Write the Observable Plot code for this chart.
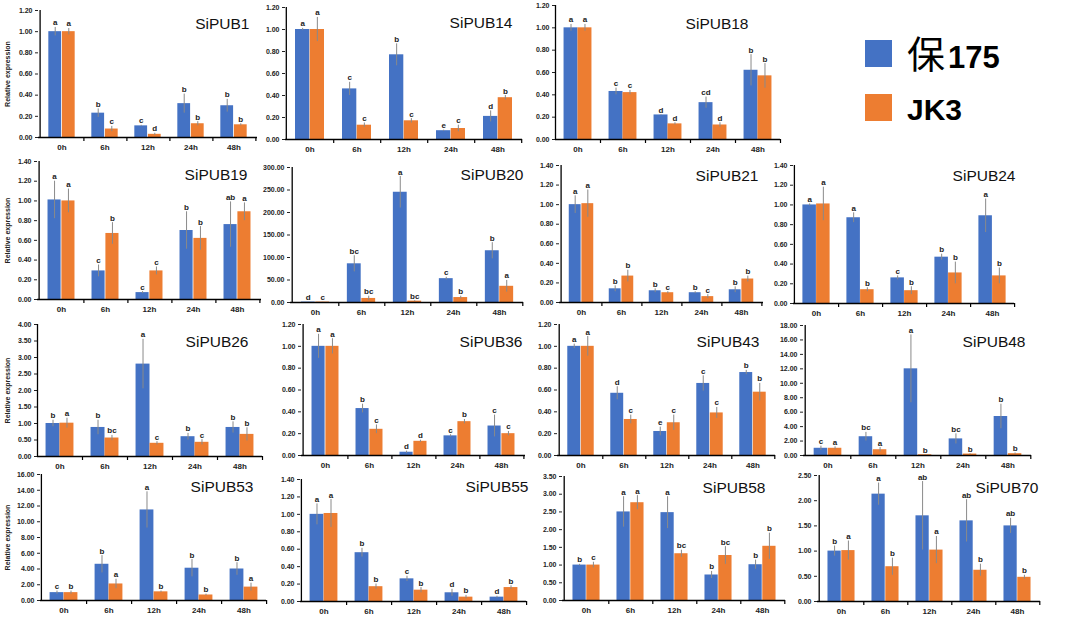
<!DOCTYPE html>
<html><head><meta charset="utf-8">
<script src="https://cdn.jsdelivr.net/npm/d3@7"></script>
<script src="https://cdn.jsdelivr.net/npm/@observablehq/plot@0.6"></script>
<style>
body{margin:0;background:#fff;}
#wrap{position:relative;width:1065px;height:618px;overflow:hidden;background:#fff;}
.panel{position:absolute;}
.panel svg{overflow:visible;}
</style></head><body><div id="wrap"></div>
<script>
// ---------- data ----------
const times = ["0h","6h","12h","24h","48h"];
const seriesNames = ["保175","JK3"];
const geneNames = ["SiPUB1","SiPUB14","SiPUB18","SiPUB19","SiPUB20","SiPUB21","SiPUB24","SiPUB26","SiPUB36","SiPUB43","SiPUB48","SiPUB53","SiPUB55","SiPUB58","SiPUB70"];

const bao175Mean = [
  [1.00,0.23,0.11,0.32,0.30],
  [1.00,0.46,0.77,0.08,0.21],
  [1.00,0.43,0.22,0.33,0.62],
  [1.01,0.29,0.07,0.70,0.76],
  [1.0,86,245,53,115],
  [1.00,0.14,0.12,0.10,0.13],
  [1.00,0.87,0.26,0.47,0.89],
  [1.00,0.88,2.80,0.60,0.88],
  [1.00,0.43,0.03,0.18,0.27],
  [1.00,0.57,0.22,0.66,0.76],
  [1.0,2.6,12.0,2.3,5.4],
  [1.0,4.6,11.5,4.1,4.0],
  [1.00,0.56,0.26,0.10,0.05],
  [1.00,2.50,2.48,0.72,1.01],
  [1.00,2.13,1.70,1.60,1.50]
];
const bao175Err = [
  [0.04,0.04,0.005,0.09,0.06],
  [0.01,0.06,0.10,0.005,0.05],
  [0.03,0.03,0.003,0.05,0.14],
  [0.19,0.06,0.01,0.19,0.23],
  [0.1,18,35,3,18],
  [0.09,0.03,0.02,0.01,0.03],
  [0.01,0.05,0.02,0.03,0.17],
  [0.10,0.22,0.75,0.10,0.17],
  [0.11,0.04,0.01,0.01,0.10],
  [0.02,0.06,0.04,0.07,0.02],
  [0.3,0.6,4.7,0.7,1.7],
  [0.2,1.1,2.3,1.1,0.8],
  [0.12,0.05,0.03,0.04,0.01],
  [0.02,0.43,0.45,0.10,0.13],
  [0.10,0.22,0.68,0.42,0.15]
];
const bao175Sig = [
  ["a","b","c","b","b"],
  ["a","c","b","e","d"],
  ["a","c","d","cd","b"],
  ["a","c","c","b","ab"],
  ["d","bc","a","c","b"],
  ["a","b","b","b","b"],
  ["a","a","c","b","a"],
  ["b","b","a","b","b"],
  ["a","b","d","c","c"],
  ["a","d","e","c","b"],
  ["c","bc","a","bc","b"],
  ["c","b","a","b","b"],
  ["a","b","c","d","d"],
  ["b","a","a","b","b"],
  ["b","a","ab","ab","ab"]
];
const jk3Mean = [
  [1.00,0.08,0.03,0.13,0.12],
  [1.00,0.13,0.17,0.10,0.38],
  [1.00,0.42,0.14,0.13,0.57],
  [1.00,0.67,0.29,0.62,0.89],
  [1.0,9,3,11,36],
  [1.01,0.27,0.10,0.06,0.24],
  [1.01,0.14,0.13,0.31,0.28],
  [1.01,0.56,0.40,0.43,0.67],
  [1.00,0.24,0.13,0.31,0.20],
  [1.00,0.33,0.30,0.39,0.58],
  [1.0,0.8,0.1,0.2,0.25],
  [1.0,2.1,1.1,0.7,1.7],
  [1.01,0.17,0.13,0.05,0.16],
  [1.00,2.76,1.32,1.27,1.53],
  [1.01,0.69,1.02,0.62,0.48]
];
const jk3Err = [
  [0.03,0.025,0.01,0.02,0.01],
  [0.11,0.02,0.02,0.03,0.02],
  [0.03,0.02,0.01,0.02,0.11],
  [0.12,0.11,0.04,0.12,0.09],
  [0.1,5,1,3,13],
  [0.14,0.06,0.01,0.02,0.03],
  [0.17,0.02,0.04,0.11,0.08],
  [0.15,0.08,0.05,0.08,0.20],
  [0.07,0.04,0.01,0.02,0.02],
  [0.09,0.04,0.07,0.05,0.08],
  [0.2,0.3,0.02,0.05,0.1],
  [0.2,0.6,0.1,0.1,0.5],
  [0.16,0.03,0.03,0.02,0.02],
  [0.08,0.20,0.10,0.25,0.37],
  [0.19,0.17,0.27,0.12,0.04]
];
const jk3Sig = [
  ["a","c","d","b","b"],
  ["a","c","c","c","b"],
  ["a","c","d","d","b"],
  ["a","b","c","b","a"],
  ["c","bc","bc","b","a"],
  ["a","b","c","c","b"],
  ["a","b","b","b","b"],
  ["a","bc","c","c","b"],
  ["a","c","d","b","c"],
  ["a","c","c","c","b"],
  ["a","a","b","b","b"],
  ["b","a","b","b","a"],
  ["a","b","b","b","b"],
  ["c","a","bc","bc","b"],
  ["a","b","a","b","b"]
];
const yMax  = [1.2,1.2,1.2,1.4,300,1.4,1.4,4,1.2,1.2,18,16,1.4,3.5,2.5];
const yStep = [0.2,0.2,0.2,0.2,50,0.2,0.2,0.5,0.2,0.2,2,2,0.2,0.5,0.5];

// ---------- layout (page pixels): frame left, right, top, bottom, title dx, title dy ----------
const frames = [
  [38,257,10,137,-8,7],
  [285,522,7,139,-10,9],
  [555,780,5,139,-32,12],
  [37,261,161,299,-14,7],
  [290,523,167,302,0,1],
  [559,763,165,302,-5,4],
  [793,1014,165,303,1,4],
  [37,262,324,456,-14,11],
  [301,525,324,455,-3,11],
  [557,775,324,455,-16,11],
  [803,1031,325,455,-6,10],
  [40,266,474,600,-13,6],
  [300,526,479,601,2,1],
  [562,785,476,600,-20,5],
  [817,1040,475,601,-2,6]
];

const BLUE = "#4472C4", ORANGE = "#ED7D31";
const FONT = "'Liberation Sans', Arial, sans-serif";
const wrap = document.getElementById("wrap");

geneNames.forEach((gene, i) => {
  const [L, R, T, B, tdx, tdy] = frames[i];
  const ML = 36, MR = 6, MT = 12, MB = 20;
  const w = R - L, h = B - T;
  const band = w / times.length;
  const bw = band * 0.31;
  const rows = times.map((t, j) => ({
    time: t,
    b: bao175Mean[i][j], be: bao175Err[i][j], bs: bao175Sig[i][j],
    o: jk3Mean[i][j], oe: jk3Err[i][j], os: jk3Sig[i][j]
  }));
  const nT = Math.round(yMax[i] / yStep[i]);
  const ticks = d3.range(nT + 1).map(k => +(k * yStep[i]).toFixed(4));
  const firstCol = L < 60;
  const svg = Plot.plot({
    width: w + ML + MR,
    height: h + MT + MB,
    marginLeft: ML, marginRight: MR, marginTop: MT, marginBottom: MB,
    style: {fontFamily: FONT, fontSize: "7px", fontWeight: "bold", color: "#222", background: "transparent", overflow: "visible"},
    x: {domain: times, padding: 0},
    y: {domain: [0, yMax[i]]},
    marks: [
      Plot.barY(rows, {x: "time", y: "b", fill: BLUE, insetLeft: band / 2 - bw, insetRight: band / 2}),
      Plot.barY(rows, {x: "time", y: "o", fill: ORANGE, insetLeft: band / 2, insetRight: band / 2 - bw}),
      Plot.ruleX(rows, {x: "time", y1: d => Math.max(0, d.b - d.be), y2: d => d.b + d.be, dx: -bw / 2, stroke: "#8a8a8a", strokeWidth: 1}),
      Plot.ruleX(rows, {x: "time", y1: d => Math.max(0, d.o - d.oe), y2: d => d.o + d.oe, dx: bw / 2, stroke: "#8a8a8a", strokeWidth: 1}),
      Plot.text(rows, {x: "time", y: d => d.b + d.be, text: "bs", dx: -bw / 2, dy: -2, lineAnchor: "bottom", fontSize: 8, fontWeight: "bold", fill: "#222"}),
      Plot.text(rows, {x: "time", y: d => d.o + d.oe, text: "os", dx: bw / 2, dy: -2, lineAnchor: "bottom", fontSize: 8, fontWeight: "bold", fill: "#222"}),
      Plot.axisY({ticks, tickFormat: d => d.toFixed(2), tickSize: 3, tickPadding: 3, fontSize: 7, fontWeight: "bold",
        label: firstCol ? "Relative expression" : null, labelAnchor: "center", labelArrow: "none", labelOffset: L - 5}),
      Plot.axisX({tickSize: 0, tickPadding: 7, fontSize: 8, fontWeight: "bold", label: null}),
      Plot.ruleX([times[0]], {x: d => d, dx: -band / 2, y1: () => 0, y2: () => yMax[i], stroke: "#000", strokeWidth: 1.3}),
      Plot.ruleY([0], {stroke: "#000", strokeWidth: 1.3}),
      Plot.ruleX(times, {x: d => d, dx: band / 2, y1: () => 0, y2: () => 0, insetBottom: -4, stroke: "#000", strokeWidth: 1.2}),
      Plot.text([gene], {frameAnchor: "top-right", dx: tdx, dy: tdy, lineAnchor: "top", textAnchor: "end", fontSize: 15.5, fontWeight: "normal", fill: "#111"})
    ]
  });
  const div = document.createElement("div");
  div.className = "panel";
  div.style.left = (L - ML) + "px";
  div.style.top = (T - MT) + "px";
  div.appendChild(svg);
  wrap.appendChild(div);
});

// ---------- legend ----------
const NS = "http://www.w3.org/2000/svg";
const leg = document.createElementNS(NS, "svg");
leg.setAttribute("width", 220); leg.setAttribute("height", 120);
leg.style.position = "absolute"; leg.style.left = "850px"; leg.style.top = "20px";
[[BLUE, 20, 48, seriesNames[0]], [ORANGE, 74, 100, seriesNames[1]]].forEach(([c, ry, base, name]) => {
  const r = document.createElementNS(NS, "rect");
  r.setAttribute("x", 15); r.setAttribute("y", ry); r.setAttribute("width", 27); r.setAttribute("height", 27);
  r.setAttribute("fill", c); leg.appendChild(r);
  const t = document.createElementNS(NS, "text");
  t.setAttribute("x", 57); t.setAttribute("y", base);
  t.setAttribute("fill", "#000");
  if (name.startsWith("保")) {
    const s1 = document.createElementNS(NS, "tspan");
    s1.setAttribute("font-family", "'Noto Sans CJK SC', sans-serif");
    s1.setAttribute("font-size", 38); s1.textContent = name.slice(0, 1);
    const s2 = document.createElementNS(NS, "tspan");
    s2.setAttribute("font-family", FONT); s2.setAttribute("font-weight", "bold");
    s2.setAttribute("font-size", 31); s2.setAttribute("dx", 3); s2.textContent = name.slice(1);
    t.appendChild(s1); t.appendChild(s2);
  } else {
    t.setAttribute("font-family", FONT); t.setAttribute("font-weight", "bold");
    t.setAttribute("font-size", 30); t.textContent = name;
  }
  leg.appendChild(t);
});
wrap.appendChild(leg);
</script>
</body></html>
